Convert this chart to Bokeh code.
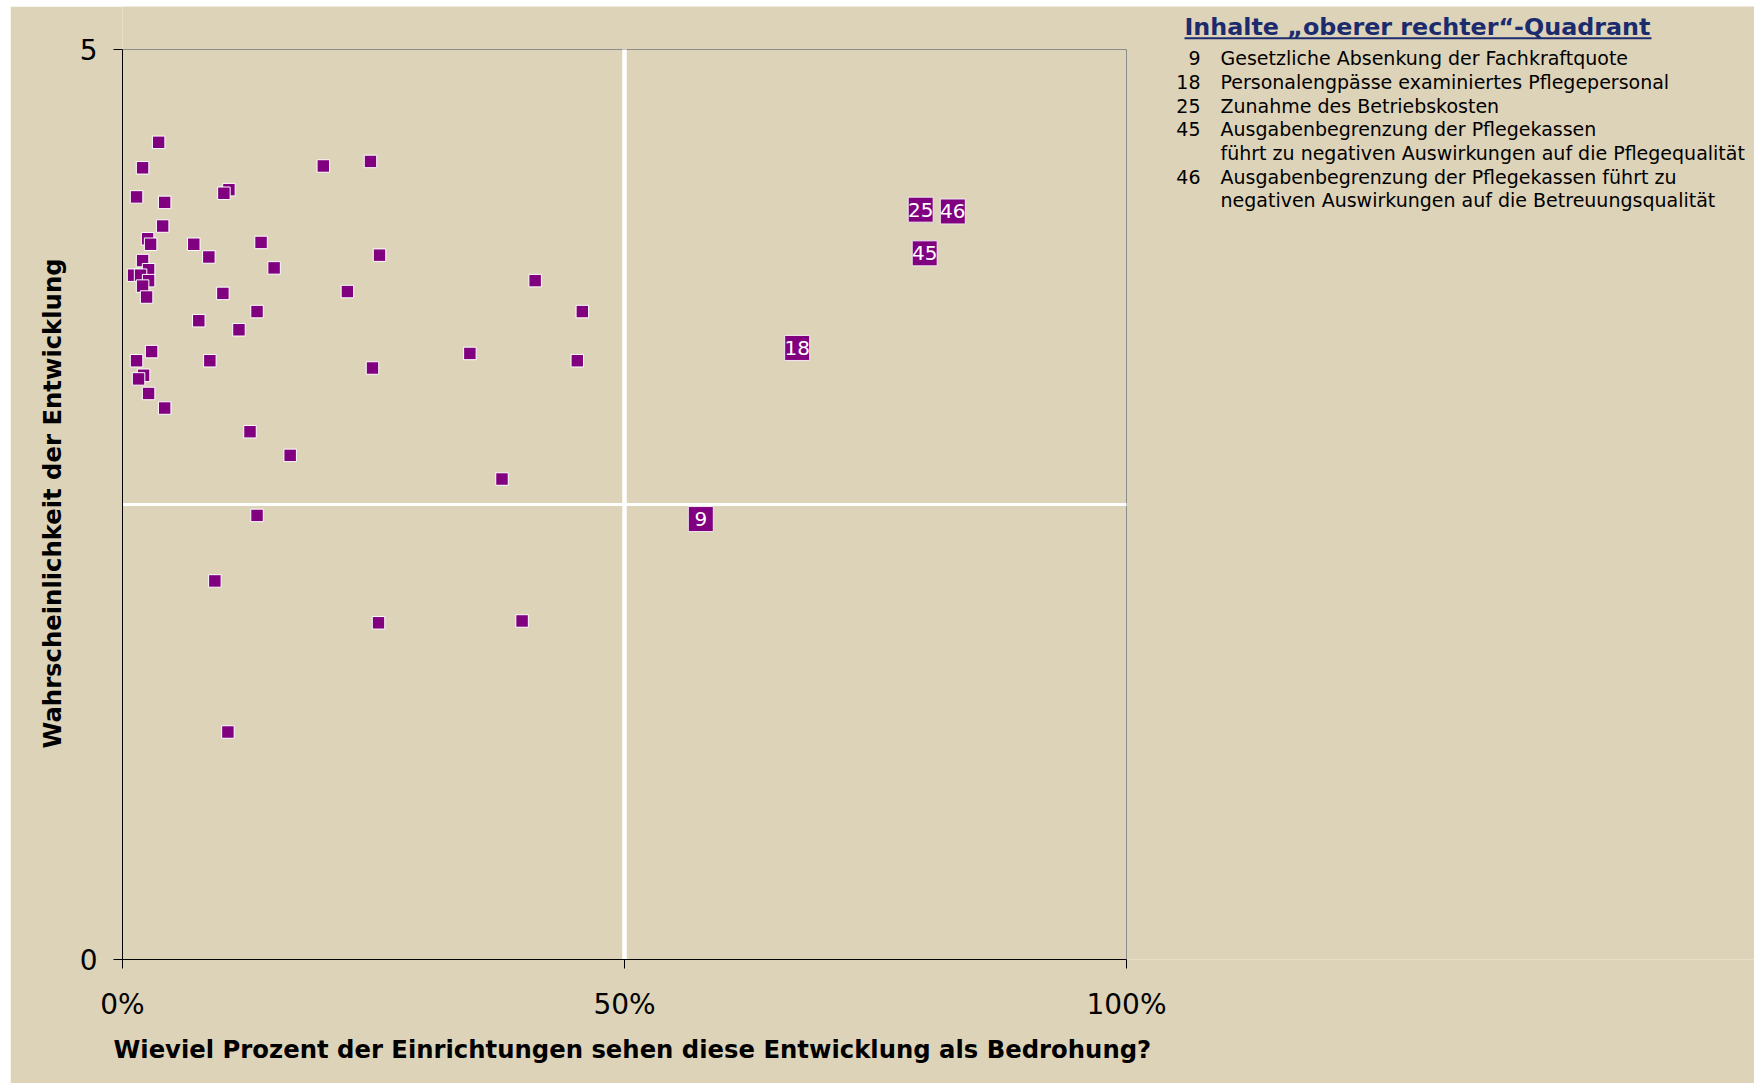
from bokeh.plotting import figure
from bokeh.models import Range1d, FixedTicker, ColumnDataSource, Spacer, Title
from bokeh.layouts import row, column
from bokeh.core.properties import value
from bokeh.embed import file_html
from bokeh.resources import INLINE

# ---------------- data ----------------
threat_pct = [3.6, 2.0, 1.4, 4.2, 10.6, 10.1, 4.0, 2.5, 2.8, 7.1, 13.8, 8.6, 2.0, 15.1,
              2.6, 1.1, 1.8, 2.6, 2.0, 2.4, 10.0, 13.4, 7.6, 11.6, 2.9, 1.4, 8.7, 2.1,
              1.6, 2.6, 4.2, 20.0, 24.7, 25.6, 22.4, 41.1, 45.8, 34.6, 45.3, 24.9, 37.8,
              12.7, 16.7, 13.4, 9.2, 25.5, 39.8, 10.5]
likelihood = [4.49, 4.35, 4.19, 4.16, 4.23, 4.21, 4.03, 3.96, 3.93, 3.93, 3.94, 3.86, 3.84, 3.80,
              3.79, 3.76, 3.76, 3.73, 3.70, 3.64, 3.66, 3.56, 3.51, 3.46, 3.34, 3.29, 3.29, 3.21,
              3.19, 3.11, 3.03, 4.36, 4.385, 3.87, 3.67, 3.73, 3.56, 3.33, 3.29, 3.25, 2.64,
              2.90, 2.77, 2.44, 2.08, 1.85, 1.86, 1.25]

label_ids = ["9", "18", "25", "45", "46"]
label_pct = [57.6, 67.2, 79.5, 79.9, 82.7]
label_likelihood = [2.42, 3.36, 4.12, 3.88, 4.11]

x_min, x_max = 0, 100
y_min, y_max = 0, 5
x_ticks = [0, 50, 100]
x_tick_labels = ["0%", "50%", "100%"]
y_ticks = [0, 5]
y_tick_labels = ["0", "5"]
x_split, y_split = 50, 2.5

x_title = "Wieviel Prozent der Einrichtungen sehen diese Entwicklung als Bedrohung?"
y_title = "Wahrscheinlichkeit der Entwicklung"

legend_title = "Inhalte \u201eoberer rechter\u201c-Quadrant"
legend_ids = ["9", "18", "25", "45", "46"]
legend_texts = [
    "Gesetzliche Absenkung der Fachkraftquote",
    "Personalengpässe examiniertes Pflegepersonal",
    "Zunahme des Betriebskosten",
    "Ausgabenbegrenzung der Pflegekassen\nführt zu negativen Auswirkungen auf die Pflegequalität",
    "Ausgabenbegrenzung der Pflegekassen führt zu\nnegativen Auswirkungen auf die Betreuungsqualität",
]

# ---------------- style / geometry ----------------
BG = "#DDD3B8"
PURPLE = "#800080"
NAVY = "#1C2B6E"
FONT = "DejaVu Sans"
W, H = 1744, 1077          # figure size (page offset 10, 6)
BL, BB = 112, 124          # left / bottom borders
PX = 10.04                 # px per x unit (plot area 1004 px wide)
PY = 182.0                 # px per y unit (plot area 910 px high)
FW, FH = W - BL, H - BB    # frame reaches the right and top edges (room for the side text)
PLOT_LEFT_PAGE, PLOT_BOTTOM_PAGE = 122, 959


def px2x(page_x):
    return (page_x - PLOT_LEFT_PAGE) / PX


def px2y(page_y):
    return (PLOT_BOTTOM_PAGE - page_y) / PY


p = figure(width=W, height=H, title=None,
           x_range=Range1d(x_min, FW / PX), y_range=Range1d(y_min, FH / PY),
           min_border_left=BL, min_border_right=0, min_border_top=0, min_border_bottom=BB,
           toolbar_location=None, output_backend="svg", tools="")
p.background_fill_color = BG
p.border_fill_color = BG
p.outline_line_color = None
p.grid.visible = False

for ax in (p.xaxis[0], p.yaxis[0]):
    ax.axis_line_color = "black"
    ax.axis_line_width = 1
    ax.major_tick_line_color = "black"
    ax.major_tick_out = 9
    ax.major_tick_in = 0
    ax.minor_tick_line_color = None
    ax.major_label_text_font = FONT
    ax.major_label_text_font_size = "28px"
    ax.major_label_text_color = "black"

p.xaxis.bounds = (x_min, x_max)
p.xaxis.ticker = FixedTicker(ticks=x_ticks)
p.xaxis.major_label_overrides = dict(zip(x_ticks, x_tick_labels))
p.xaxis.major_label_standoff = 19

p.yaxis.bounds = (y_min, y_max)
p.yaxis.ticker = FixedTicker(ticks=y_ticks)
p.yaxis.major_label_overrides = dict(zip(y_ticks, y_tick_labels))
p.yaxis.major_label_standoff = 16

# axis titles (side-panel titles, aligned to the plot area)
p.add_layout(Title(text=x_title, align="left", offset=-9,
                   text_font=FONT, text_font_style="bold", text_font_size="24.3px",
                   text_color="black", standoff=18), "below")
p.add_layout(Title(text=y_title, align="left", offset=PLOT_BOTTOM_PAGE - 748,
                   text_font=FONT, text_font_style="bold", text_font_size="24.3px",
                   text_color="black", standoff=19.5), "left")

# plot-area border (top / right) and quadrant lines
p.segment(x0=[x_min, x_max], y0=[y_max, y_min], x1=[x_max, x_max], y1=[y_max, y_max],
          line_color="#8C8C8C", line_width=1)
p.segment(x0=[x_split], y0=[y_min], x1=[x_split], y1=[y_max], line_color="white", line_width=4.5)
p.segment(x0=[x_min], y0=[y_split], x1=[x_max], y1=[y_split], line_color="white", line_width=3)

p.scatter(x=threat_pct, y=likelihood, marker="square", size=12.5,
          fill_color=PURPLE, line_color="white", line_width=1)

lab_src = ColumnDataSource(dict(x=label_pct, y=label_likelihood, t=label_ids))
p.scatter(x="x", y="y", source=lab_src, marker="square", size=25,
          fill_color=PURPLE, line_color="#F0E8F0", line_width=1)
p.text(x="x", y="y", text="t", source=lab_src, text_color="white",
       text_font=value(FONT), text_font_size="20px", text_align="center", text_baseline="middle")

# ---------------- side text: quadrant contents ----------------
p.text(x=[px2x(1184)], y=[px2y(26)], text=[legend_title], text_color=NAVY,
       text_font=value(FONT), text_font_style="bold", text_font_size="23.8px",
       text_baseline="alphabetic", text_align="left")
p.segment(x0=[px2x(1184)], y0=[px2y(37.8)], x1=[px2x(1184 + 467)], y1=[px2y(37.8)],
          line_color=NAVY, line_width=2)

num_x, num_y, num_t = [], [], []
line_x, line_y, line_t = [], [], []
base, step = 57.6, 23.7
k = 0
for ident, txt in zip(legend_ids, legend_texts):
    num_x.append(px2x(1200)); num_y.append(px2y(base + k * step)); num_t.append(ident)
    for ln in txt.split("\n"):
        line_x.append(px2x(1220)); line_y.append(px2y(base + k * step)); line_t.append(ln)
        k += 1

p.text(x=num_x, y=num_y, text=num_t, text_color="black", text_font=value(FONT),
       text_font_size="19px", text_align="right", text_baseline="alphabetic")
p.text(x=line_x, y=line_y, text=line_t, text_color="black", text_font=value(FONT),
       text_font_size="19px", text_align="left", text_baseline="alphabetic")

layout = column(Spacer(height=6), row(Spacer(width=10), p))
open("out.html", "w").write(file_html(layout, INLINE))
